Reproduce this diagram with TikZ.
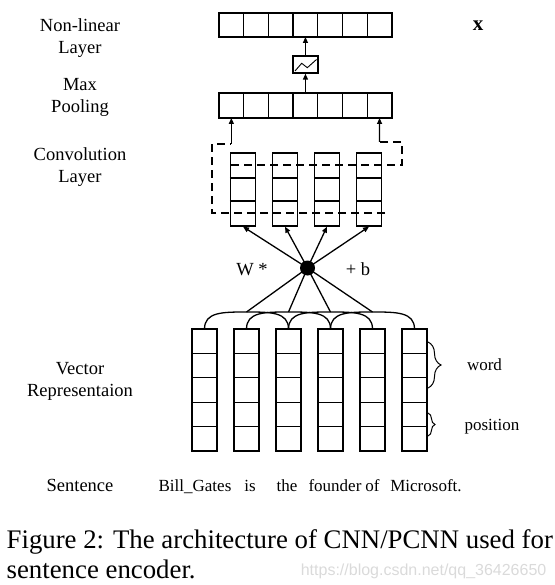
\documentclass[tikz,border=0pt]{standalone}
\usepackage{fontspec}
\setmainfont{Liberation Serif}
\newfontfamily\wmfont{Liberation Sans}
\usepackage{tikz}
\usetikzlibrary{arrows.meta,decorations.pathreplacing}
\definecolor{wmgray}{HTML}{DADADA}

\begin{document}
\begin{tikzpicture}[x=1pt, y=-1pt, line width=1.3pt, >={Triangle[length=6pt,width=5pt]},
    cell/.style={draw, rectangle, minimum width=24.7pt, minimum height=24.4pt, inner sep=0pt, outer sep=0pt},
    lbl/.style={font=\fontsize{18.5}{22}\selectfont, align=center, inner sep=0pt},
    wrd/.style={font=\fontsize{17}{21}\selectfont, inner sep=0pt, anchor=base},
    win/.style={dash pattern=on 8pt off 5pt}]
  \useasboundingbox (0,0) rectangle (554,585);

  \node[lbl] (nllbl) at (80,38.4) {Non-linear\\Layer};
  \node[lbl] (mplbl) at (80,97.6) {Max\\Pooling};
  \node[lbl] (cvlbl) at (80,167.4) {Convolution\\Layer};
  \node[lbl] (vrlbl) at (80,381.9) {Vector\\Representaion};
  \node[lbl, anchor=base] (snlbl) at (80,491) {Sentence};
  \node[inner sep=0pt, anchor=base, font=\fontsize{21}{24}\selectfont\bfseries] (xlbl) at (478,30.7) {x};

  \foreach \i in {0,...,6} {
    \node[cell, minimum height=24pt] (nl\i) at ({231.35+24.7*\i},25) {};
    \node[cell, minimum height=25pt] (mp\i) at ({231.35+24.7*\i},105.5) {};
  }
  \node[draw, rectangle, minimum width=25pt, minimum height=17pt, inner sep=0pt] (act) at (305.45,64.5) {};
  \draw[line width=0.9pt] (295,71) -- (301.7,63.3) -- (307.3,67.7) -- (316.5,59.5);
  \draw[->] (mp3.north) -- (act.south);
  \draw[->] (act.north) -- (nl3.south);

  \foreach \i in {0,...,3} {
    \node[draw, rectangle, minimum width=25pt, minimum height=73pt, inner sep=0pt] (cv\i) at ({243+42*\i},189.5) {};
    \draw ([yshift=11.5pt]cv\i.west) -- ([yshift=11.5pt]cv\i.east);
    \draw ([yshift=-11.5pt]cv\i.west) -- ([yshift=-11.5pt]cv\i.east);
  }
  \coordinate (wa) at (231.35,144);
  \coordinate (wb) at (379.55,142);
  \draw[win] (385,213) -- (212,213) -- (212,144) -- (wa);
  \draw[win] (231,165) -- (402,165) -- (402,142) -- (wb);
  \draw[->] (wa) -- (mp0.south);
  \draw[->] (wb) -- (mp6.south);

  \node[circle, fill=black, inner sep=0pt, minimum size=15pt] (dot) at (307.5,268) {};
  \foreach \i in {0,...,3}
    \draw[->] (dot.center) -- (cv\i.south);
  \node[lbl, anchor=base] (wlbl) at (252,275) {W *};
  \node[lbl, anchor=base] (blbl) at (358,275) {+ b};

  \foreach \i in {0,...,5}
    \foreach \k in {0,...,4}
      \node[cell, minimum width=25pt] (w\i-\k) at ({204.5+42*\i},{341.2+24.4*\k}) {};
  \foreach \i in {0,...,3} {
    \pgfmathtruncatemacro\j{\i+2}
    \coordinate (m\i) at ({246.5+42*\i},312);
    \draw (w\i-0.north) .. controls +(0,-17) and +(-24,0) .. (m\i) .. controls +(24,0) and +(0,-17) .. (w\j-0.north);
    \draw (dot.center) -- (m\i);
  }

  \coordinate (bw1) at (428,342);
  \coordinate (bw2) at (428,388);
  \coordinate (bp1) at (428,413);
  \coordinate (bp2) at (428,436);
  \draw[line width=1pt, decorate, decoration={brace, amplitude=13pt}] (bw1) -- (bw2);
  \draw[line width=1pt, decorate, decoration={brace, amplitude=7pt}] (bp1) -- (bp2);
  \node[wrd] (wordlbl) at (484.5,370.7) {word};
  \node[wrd] (poslbl) at (492,430) {position};

  \foreach \w/\x [count=\n] in {Bill\_Gates/195, is/250, the/287, founder/335, of/372.5, Microsoft./426}
    \node[wrd] (s\n) at (\x,491) {\w};

  \node[anchor=base west, inner sep=0pt, font=\fontsize{26.8}{30}\selectfont] (cap1) at (6,548) {Figure 2: The architecture of CNN/PCNN used for};
  \node[anchor=base west, inner sep=0pt, font=\fontsize{26.8}{30}\selectfont] (cap2) at (6,578) {sentence encoder.};
  \node[anchor=base east, inner sep=0pt, text=wmgray, font=\wmfont\fontsize{16}{18}\selectfont] (wm) at (547,575) {https://blog.csdn.net/qq\_36426650};
\end{tikzpicture}
\end{document}
